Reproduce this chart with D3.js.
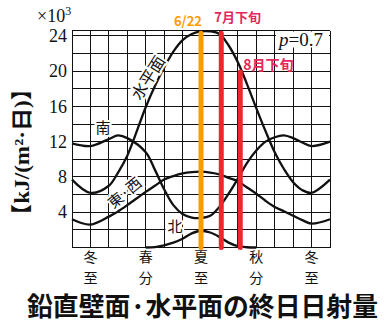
<!DOCTYPE html>
<html>
<head>
<meta charset="utf-8">
<script src="https://cdn.jsdelivr.net/npm/d3@7/dist/d3.min.js"></script>
<style>
  html, body { margin: 0; padding: 0; background: #fff; }
  svg { display: block; }
</style>
</head>
<body>
<svg id="chart" width="384" height="327"></svg>
<script>
// Month position: 0 = winter solstice (Dec 22), 3 = spring equinox, 6 = summer solstice ...
const months = [-1, 0, 1, 1.5, 2, 3, 3.5, 4, 4.5, 5, 5.5, 6, 6.5, 7, 7.5, 8, 8.5, 9, 9.5, 10, 10.5, 11, 11.5, 12, 13];

// Daily solar irradiation (x10^3 kJ/(m2·day)), p = 0.7
const horizontal = [7.7, 6.2, 7.0, 8.5, 10.4, 15.9, 18.3, 20.4, 22.2, 23.5, 24.2, 24.5, 24.5, 24.2, 22.9, 21.0, 18.5, 15.8, 13.2, 10.8, 8.9, 7.4, 6.5, 6.2, 7.7];
const south      = [11.8, 11.5, 12.3, 12.7, 12.4, 10.8, 8.8, 6.6, 4.8, 3.8, 3.4, 3.35, 3.6, 4.6, 6.1, 7.8, 9.6, 11.0, 12.0, 12.5, 12.7, 12.4, 11.9, 11.5, 12.0];
const eastWest   = [3.2, 2.6, 3.5, 4.1, 4.8, 6.3, 7.0, 7.7, 8.1, 8.4, 8.55, 8.6, 8.5, 8.3, 7.9, 7.5, 6.8, 6.1, 5.3, 4.6, 4.1, 3.6, 3.1, 2.7, 3.2];
const northMonths = [3, 3.5, 4, 4.5, 5, 5.5, 6, 6.5, 7, 7.5, 8, 8.5, 9];
const north       = [0, 0.05, 0.25, 0.55, 1.0, 1.6, 1.9, 1.7, 1.2, 0.55, 0.15, 0.03, 0];

const yTicks = [4, 8, 12, 16, 20, 24];
const xTickPos = [0, 3, 6, 9, 12];
const xTickLabels = [["冬", "至"], ["春", "分"], ["夏", "至"], ["秋", "分"], ["冬", "至"]];

// Highlighted dates: summer solstice, late July, late August
const markerPos    = [6, 7.1, 8.13];
const markerTop    = [24.3, 24.3, 19.9];
const markerLabels = ["6/22", "7月下旬", "8月下旬"];
const markerColors = ["#ff9a00", "#f0262d", "#f0262d"];
const markerTextColors = ["#ff9a00", "#e6275a", "#e6275a"];

const svg = d3.select("#chart");
const x = d3.scaleLinear().domain([-1, 13]).range([72, 330]);
const y = d3.scaleLinear().domain([0, 24.6]).range([247.5, 30.5]);

const serif = "'Liberation Serif', 'DejaVu Serif', serif";
const cjk = "'Noto Sans CJK JP', sans-serif";

// grid: one column per month, one row per 2 units
const grid = svg.append("g").attr("stroke", "#111").attr("stroke-width", 1).attr("shape-rendering", "crispEdges");
d3.range(-1, 14).forEach(m => {
  grid.append("line").attr("x1", x(m)).attr("x2", x(m)).attr("y1", y(0)).attr("y2", y(24.6));
});
d3.range(0, 25, 2).concat([24.6]).forEach(v => {
  grid.append("line").attr("x1", x(-1)).attr("x2", x(13)).attr("y1", y(v)).attr("y2", y(v));
});

// y axis tick labels
const yAxis = d3.axisLeft(y).tickValues(yTicks).tickSize(0).tickPadding(5);
const yg = svg.append("g").attr("transform", `translate(${x(-1)},0)`).call(yAxis);
yg.select(".domain").remove();
yg.selectAll("text").attr("font-family", serif).attr("font-size", 18).attr("fill", "#111");

// unit multiplier
svg.append("text").attr("x", 37).attr("y", 22).attr("font-family", serif).attr("font-size", 18).attr("fill", "#111")
  .text("×10").append("tspan").attr("dy", -7).attr("font-size", 12).text("3");

// x tick labels (stacked vertical characters)
xTickPos.forEach((p, i) => {
  const t = svg.append("text").attr("text-anchor", "middle").attr("font-family", cjk).attr("font-size", 14).attr("fill", "#111");
  t.append("tspan").attr("x", x(p)).attr("y", 262).text(xTickLabels[i][0]);
  t.append("tspan").attr("x", x(p)).attr("y", 283).text(xTickLabels[i][1]);
});

// curves
const line = d3.line().x(d => x(d[0])).y(d => y(d[1])).curve(d3.curveCatmullRom.alpha(0.5));
const curves = [
  d3.zip(months, horizontal),
  d3.zip(months, south),
  d3.zip(months, eastWest),
  d3.zip(northMonths, north)
];
svg.append("g").selectAll("path").data(curves).join("path")
  .attr("d", line).attr("fill", "none").attr("stroke", "#111").attr("stroke-width", 2.3);

// highlighted date lines
svg.append("g").selectAll("line").data(markerPos).join("line")
  .attr("x1", d => x(d)).attr("x2", d => x(d))
  .attr("y1", y(0)).attr("y2", (d, i) => y(markerTop[i]))
  .attr("stroke", (d, i) => markerColors[i]).attr("stroke-width", 5).attr("stroke-linecap", "round");

// date labels
const mk = svg.append("g").attr("font-family", cjk).attr("font-weight", "bold");
mk.append("text").attr("x", x(markerPos[0]) + 1).attr("y", 26).attr("text-anchor", "end").attr("font-size", 13)
  .attr("fill", markerTextColors[0]).text(markerLabels[0]);
mk.append("text").attr("x", x(markerPos[1]) - 7).attr("y", 22).attr("font-size", 13)
  .attr("fill", markerTextColors[1]).text(markerLabels[1]);
mk.append("text").attr("x", x(markerPos[2]) + 3).attr("y", 70).attr("font-size", 14)
  .attr("fill", markerTextColors[2]).text(markerLabels[2]);

// p = 0.7 box
svg.append("rect").attr("x", 276).attr("y", 31.5).attr("width", 53).attr("height", 16).attr("fill", "#fff");
const pt = svg.append("text").attr("x", 279).attr("y", 46).attr("font-family", serif).attr("font-size", 19).attr("fill", "#111");
pt.append("tspan").attr("font-style", "italic").text("p");
pt.append("tspan").text("=0.7");

// series labels with white halo
function curveLabel(txt, cx, cy, angle, size) {
  svg.append("text").attr("transform", `translate(${cx},${cy}) rotate(${angle})`)
    .attr("text-anchor", "middle").attr("dominant-baseline", "central")
    .attr("font-family", cjk).attr("font-size", size).attr("fill", "#111")
    .attr("stroke", "#fff").attr("stroke-width", 4).attr("paint-order", "stroke")
    .text(txt);
}
curveLabel("水平面", 147, 77, -58, 16);
curveLabel("南", 103, 126, 0, 15);
curveLabel("東·西", 124, 192, -40, 15);
curveLabel("北", 175, 225, 0, 15);

// y axis title
svg.append("text").attr("transform", "translate(22,152) rotate(-90)")
  .attr("text-anchor", "middle").attr("dominant-baseline", "central")
  .attr("font-family", serif + ", " + cjk).attr("font-weight", "bold").attr("font-size", 21).attr("fill", "#111")
  .attr("textLength", 150).attr("lengthAdjust", "spacingAndGlyphs")
  .text("【kJ/(m²·日)】");

// title
svg.append("text").attr("x", 27).attr("y", 316)
  .attr("font-family", cjk).attr("font-weight", "bold").attr("font-size", 26).attr("fill", "#111")
  .attr("textLength", 351).attr("lengthAdjust", "spacingAndGlyphs")
  .text("鉛直壁面·水平面の終日日射量");
</script>
</body>
</html>
